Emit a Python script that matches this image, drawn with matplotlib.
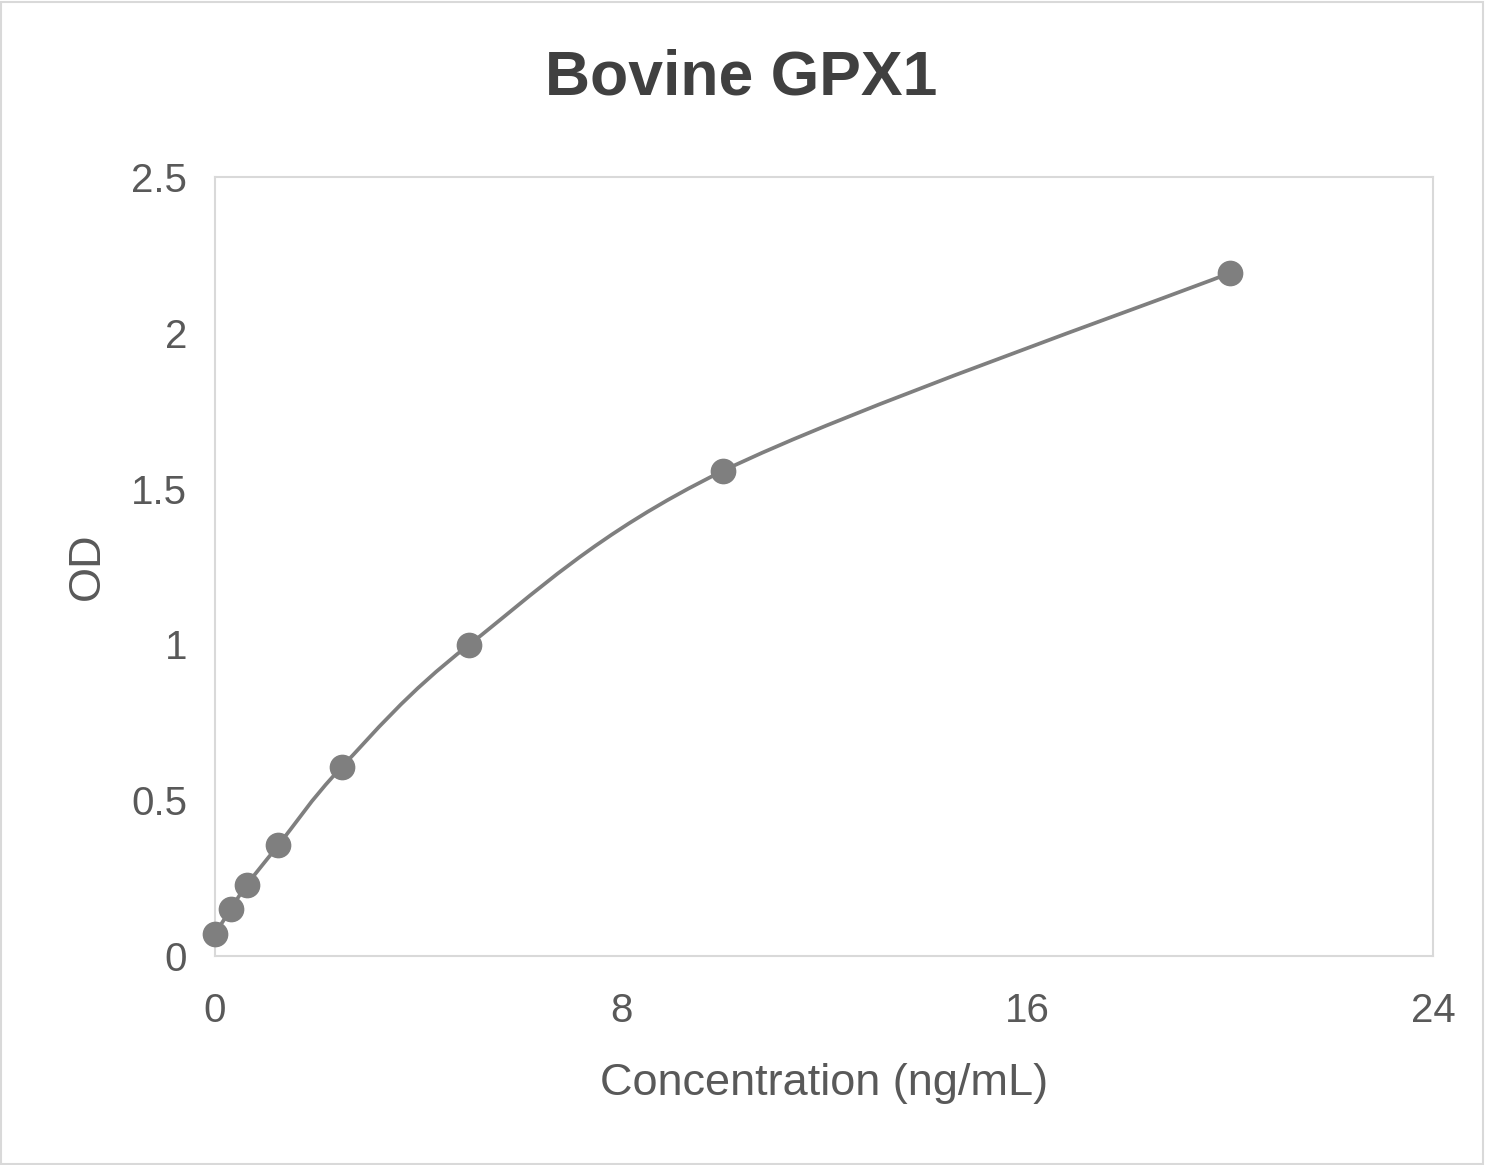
import matplotlib
matplotlib.use("Agg")
from matplotlib import pyplot as plt
from matplotlib.path import Path
from matplotlib.patches import PathPatch, Rectangle

plt.rcParams['font.family'] = ['Liberation Sans', 'DejaVu Sans']

# standard curve readings
conc = [0, 0.3125, 0.625, 1.25, 2.5, 5, 10, 20]
od = [0.071, 0.151, 0.228, 0.356, 0.607, 0.998, 1.556, 2.192]
x_ticks = [0, 8, 16, 24]
y_ticks = [0, 0.5, 1, 1.5, 2, 2.5]
y_tick_labels = ['0', '0.5', '1', '1.5', '2', '2.5']

grey = '#7f7f7f'
text_col = '#595959'


def smooth_path(xs, ys):
    """bezier path through the points, like the excel smoothed line"""
    pts = list(zip(xs, ys))
    n = len(pts)
    verts = [pts[0]]
    codes = [Path.MOVETO]
    for i in range(n - 1):
        p0 = pts[i - 1] if i > 0 else pts[i]
        p1 = pts[i]
        p2 = pts[i + 1]
        p3 = pts[i + 2] if i + 2 < n else pts[i + 1]
        c1 = (p1[0] + (p2[0] - p0[0]) / 6, p1[1] + (p2[1] - p0[1]) / 6)
        c2 = (p2[0] - (p3[0] - p1[0]) / 6, p2[1] - (p3[1] - p1[1]) / 6)
        verts += [c1, c2, p2]
        codes += [Path.CURVE4] * 3
    return Path(verts, codes)


fig = plt.figure(figsize=(14.86, 11.65), dpi=100)
ax = fig.add_axes([0.1447, 0.1794, 0.8197, 0.6687])

ax.add_patch(PathPatch(smooth_path(conc, od), facecolor='none',
                       edgecolor=grey, lw=2.7, zorder=2))
ax.plot(conc, od, linestyle='none', marker='o', markersize=17.5,
        color=grey, zorder=3, clip_on=False)

ax.set_xlim(0, 24)
ax.set_ylim(0, 2.5)
ax.set_xticks(x_ticks)
ax.set_yticks(y_ticks)
ax.set_yticklabels(y_tick_labels)
ax.tick_params(length=0, labelsize=29, labelcolor=text_col)
ax.tick_params(axis='x', pad=26)
ax.tick_params(axis='y', pad=20)
for s in ax.spines.values():
    s.set_color('#d9d9d9')
    s.set_linewidth(1.5)

ax.set_xlabel('Concentration (ng/mL)', fontsize=32.5, color=text_col, labelpad=24)
ax.set_ylabel('OD', fontsize=32.5, color=text_col, labelpad=17)
fig.text(0.4987, 0.933, 'Bovine GPX1', fontsize=45, fontweight='bold',
         color='#404040', ha='center', va='center')

# chart border
fig.patches.append(Rectangle((0.001, 0.001), 0.997, 0.997, transform=fig.transFigure,
                             fill=False, edgecolor='#d9d9d9', lw=1.5))

fig.savefig('out.png', dpi=100)
